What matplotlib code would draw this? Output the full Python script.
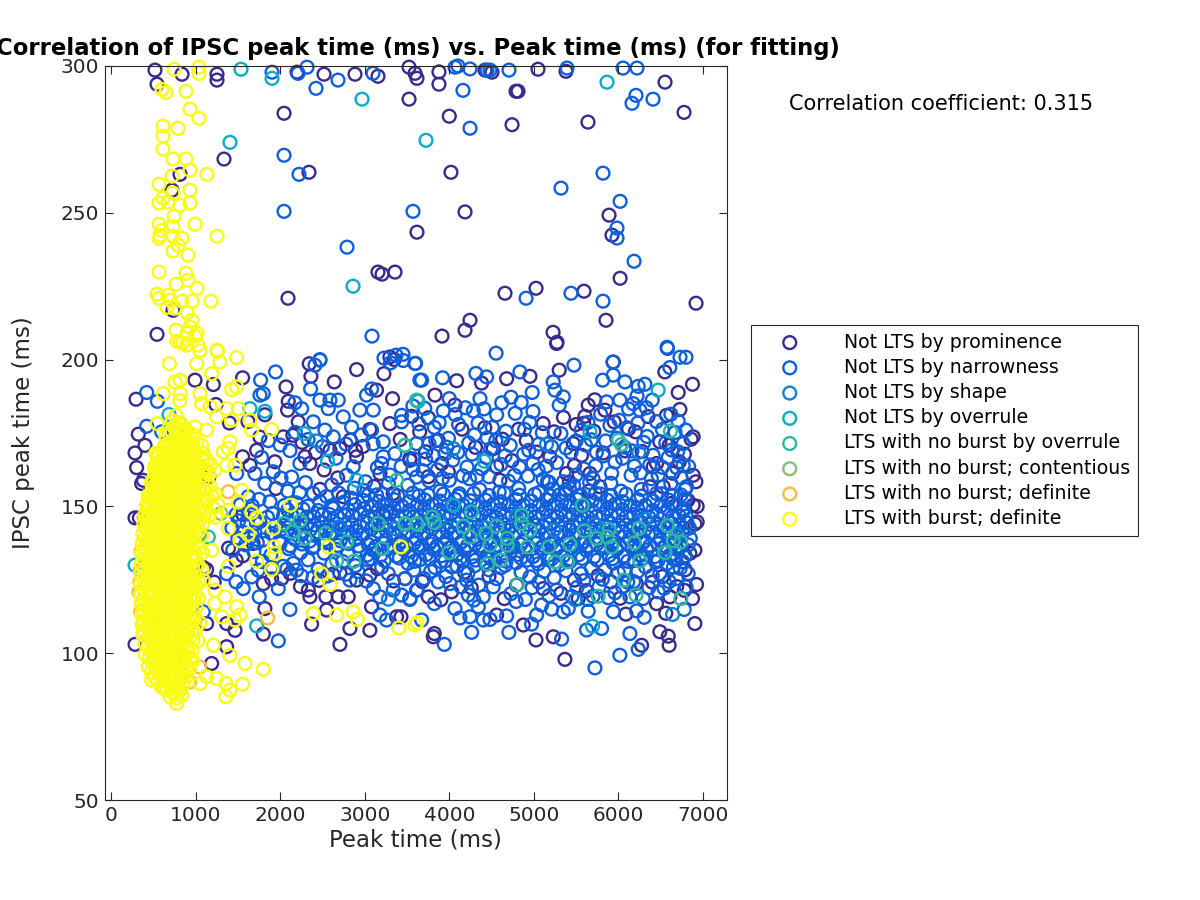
import numpy as np
import matplotlib
matplotlib.use('Agg')
import matplotlib.pyplot as plt

# Values as (peak time, IPSC peak time)
prominence = [
    (520, 298.6), (544, 293.8), (840, 297.2), (1253, 297.2), (1253, 295.2), (2200, 297.9), (2519, 297.2), (2885, 297.2),
    (3157, 296.5), (3524, 299.6), (3595, 297.5), (3618, 295.8), (3524, 288.7), (2046, 283.9), (1336, 268.3), (2341, 263.8),
    (816, 263.1), (721, 257.7), (2093, 220.9), (3157, 229.8), (3205, 229.1), (3358, 229.8), (3618, 243.4), (544, 208.6),
    (733, 216.8), (3878, 298), (3878, 293.8), (4000, 282.9), (4020, 263.8), (4186, 250.3), (4186, 210), (4245, 213.4),
    (3914, 208), (4789, 291.4), (4742, 280), (4659, 222.6), (5026, 224.3), (5049, 298.9), (5380, 298.2), (5593, 223.3),
    (5227, 209.3), (5274, 205.9), (5640, 280.9), (5889, 249.2), (5924, 242.4), (5853, 213.4), (6020, 227.7), (6551, 294.5),
    (6776, 284.2), (6918, 219.2), (4505, 297.9), (4423, 298.6), (4813, 291.4),
    (296, 186.5), (323, 174.6), (284, 168.2), (402, 170.8), (303, 163.2), (382, 158.9), (362, 157.8), (284, 146.1),
    (335, 146.1), (284, 103), (1556, 193.8), (1210, 191.5), (993, 193), (2344, 198.6), (2364, 194.3), (2640, 192.4),
    (2904, 196.6), (3227, 195.2), (3298, 200.9), (3349, 200), (2069, 190.7), (2096, 185.8), (2088, 182.8), (2214, 178.8),
    (2037, 173.7), (1722, 169.1), (1556, 166.9), (1643, 164), (1939, 165.2), (1950, 156.1), (2352, 164.6), (2293, 166.9),
    (2904, 166.9), (2589, 169.1), (2707, 169.7), (2890, 169.1), (2746, 153.3), (3337, 154.4), (3534, 166.3), (3298, 178.2),
    (3329, 186.7), (3140, 189.6), (2333, 121.5), (2352, 119.2), (2541, 119.2), (2687, 119.2), (2805, 119.2), (1801, 123.7),
    (2017, 125.4), (1820, 115.2), (1367, 110.1), (1466, 107.8), (1801, 106.5), (1367, 102.2), (1190, 96.5), (1131, 110.1),
    (1091, 129.2), (1131, 128.5), (2707, 103), (2372, 109.9), (2549, 114.7), (2825, 108.4), (3081, 115.8), (3061, 107.8),
    (3377, 112.4), (2707, 127.4), (2904, 124.9), (3061, 126.6), (5269, 205.5), (5939, 199.2), (5300, 196.4), (4954, 194.3),
    (4087, 192.8), (4382, 192), (4678, 193.5), (3831, 187.9), (4067, 184.5), (3555, 180.7), (3752, 180.2), (5643, 184.5),
    (5840, 182.8), (5604, 180.7), (6549, 195.8), (6876, 191.6), (6707, 188.8), (6727, 183), (6569, 181), (6884, 173.7),
    (6860, 172.9), (6884, 160.6), (6916, 158.4), (6884, 150.4), (6931, 150), (6931, 144.7), (6904, 144), (6904, 135.1),
    (6845, 134), (6924, 123.4), (6876, 118.6), (6904, 110.1), (6600, 102.7), (6490, 107.3), (6589, 105.8), (6274, 102.7),
    (5367, 97.9), (5025, 104.5), (5230, 105.6), (3823, 106.7), (3811, 105.6), (4560, 113), (4875, 109.6), (6088, 113.3),
    (6451, 116.9), (6608, 119.2), (5525, 118.6), (5111, 122), (4796, 123.2), (4028, 120.9), (3752, 119.2), (3476, 125.4),
    (3429, 112.4), (5190, 166.9), (5466, 171.4), (5564, 167.4), (5663, 161.2), (5781, 156.7), (5387, 161.2), (4599, 158.9),
    (4560, 163.5), (3910, 164.6), (3988, 161.8), (3752, 160.1), (3535, 165.7), (3870, 172.5), (6451, 164.6), (6411, 163.5),
    (6490, 172), (6529, 156.7), (6628, 151), (6372, 156.7), (5590, 178.3), (5710, 175.6), (5820, 168.2), (5420, 158.3),
    (5480, 163.9), (5650, 155.2), (6120, 176.4), (6280, 168.7), (6640, 161.3), (6780, 167.8), (6820, 152.1), (6790, 128.4),
    (6690, 122.7), (6520, 126.1), (5910, 124.3), (5760, 126.4), (5480, 124.9), (4180, 127.6), (4470, 126.2), (4630, 172.9),
    (4820, 176.3), (5030, 168.5), (3260, 148.2), (3110, 156.8), (2680, 159.7), (2470, 155.8), (1760, 173.6), (1400, 178.4),
    (1620, 178.9), (1820, 181.2), (1240, 184.7), (1160, 160.2), (1480, 131.7), (1560, 133.2), (1390, 135.8), (1220, 124.2),
    (2150, 174.2), (2260, 171.8), (2420, 168.3), (2520, 162.4), (2830, 172.6), (2980, 170.4), (3060, 176.2), (3180, 161.2),
    (3420, 172.8), (3650, 175.4), (3720, 168.6), (4150, 176.3), (4310, 170.1), (4420, 176.8), (4520, 169.7), (4740, 165.6),
    (4910, 172.4), (5110, 178.2), (5240, 175.4), (5350, 180.3), (5500, 177.9), (5720, 186.3), (5950, 178.8), (6080, 168.9),
    (6200, 175.4), (6350, 180.6), (6600, 170.8), (6720, 165.2), (1560, 147.3), (1680, 137.4), (1900, 125.3), (2120, 127.2),
    (2240, 122.7), (2460, 124.8), (2620, 126.9), (3150, 128.8), (3340, 124.6), (3680, 124.4), (3900, 118.2), (4260, 122.3),
    (4650, 118.6), (5320, 120.4), (5620, 121.3), (6020, 118.7), (6210, 123.8), (6400, 124.2), (6560, 113.6), (6780, 121.4),
]

narrowness = [
    (1904, 297.9), (2318, 299.6), (2211, 297.5), (2684, 295.2), (2424, 292.4), (3098, 297.5), (2046, 269.6), (2223, 263.1),
    (2046, 250.5), (3571, 250.5), (2791, 238.3), (3086, 208), (4162, 291.7), (4245, 278.8), (4068, 299.6), (4103, 300),
    (4245, 299), (4446, 298.6), (4482, 298.6), (4706, 298.6), (5392, 299.3), (5321, 258.4), (5818, 263.5), (6020, 253.9),
    (5983, 244.8), (5983, 241.4), (6185, 233.5), (4908, 220.9), (5439, 222.6), (5818, 219.9), (6055, 299.3), (6220, 299.3),
    (6208, 290), (6161, 287.3), (6409, 288.7), (6575, 204.2), (6728, 200.8), (6799, 200.8), (4553, 202.2), (2471, 199.8),
    (2412, 198.1), (3370, 201.5), (3453, 201.8), (3228, 200.5), (5936, 199.1),
    (422, 188.8), (548, 185.8), (422, 177.3), (599, 175.4), (1769, 193), (1946, 195.8), (2470, 200), (2360, 190),
    (3456, 199.7), (3306, 198.9), (3593, 198.7), (3652, 193), (1761, 187.9), (1800, 188.4), (2254, 183.3), (2175, 185.3),
    (2470, 186.2), (2589, 186.2), (2687, 186.2), (2569, 183.3), (3022, 187.9), (3081, 190), (3101, 182.8), (2943, 182.8),
    (2746, 180.5), (2845, 177), (3436, 181), (3436, 178.8), (3219, 172), (3081, 176), (2392, 178.8), (2530, 176),
    (2628, 173.7), (2116, 169), (2234, 164.6), (1702, 161.2), (1919, 161.8), (2136, 160), (2392, 154.4), (2864, 163.5),
    (2786, 160.6), (3219, 166.9), (3199, 164.6), (3357, 168), (3613, 160), (3613, 171.4), (1623, 153.3), (1820, 157.8),
    (1485, 161.2), (3101, 122), (3180, 119.2), (3337, 121.5), (3436, 119.8), (3534, 118.6), (3613, 121.5), (3475, 125.4),
    (1753, 119.2), (2116, 114.9), (1978, 104.2), (2825, 124.9), (3278, 127.1), (2194, 128.3), (2037, 129.6), (2155, 130.6),
    (1663, 126), (1564, 122), (1478, 124.3), (1367, 127.1), (3180, 113), (3258, 111.3), (1091, 114.1), (1978, 122),
    (1742, 128.3), (3602, 198.7), (3673, 193), (3921, 193.8), (4315, 195.3), (4441, 194.1), (4835, 195.8), (5474, 198.1),
    (6581, 203.8), (6608, 197.3), (5813, 193), (5939, 194.7), (6077, 192.4), (6234, 190.9), (6313, 191.6), (5229, 192.4),
    (5249, 189.6), (5348, 187.3), (5300, 184.5), (4981, 188.8), (4363, 186.7), (4000, 186.7), (3929, 182.5), (4284, 182.5),
    (3823, 176.9), (6017, 186.2), (6175, 185), (6254, 182.8), (6707, 179), (6797, 176), (6766, 171.4), (6766, 164),
    (6805, 156.7), (6825, 127.1), (6778, 114.9), (6305, 112.2), (6136, 106.7), (6234, 101.3), (6017, 99.3), (5722, 95),
    (5801, 108.4), (5623, 107.9), (5328, 104.8), (4705, 107.1), (4264, 107.1), (3941, 103), (3673, 111.3), (3535, 118.3),
    (3823, 116.9), (4067, 115.2), (4126, 112), (4244, 112.4), (4402, 111.3), (4481, 111.5), (4678, 112.7), (4973, 109.9),
    (5033, 113), (5210, 115), (5348, 114.1), (5407, 115.2), (5643, 114.3), (5939, 114.1), (6215, 114.4), (4343, 115.8),
    (4402, 119.2), (4225, 119.8), (4560, 125.4), (5269, 121.5), (5092, 116.4), (4954, 126), (3622, 121.5), (4008, 123.7),
    (4205, 124.9), (6136, 119.2), (6293, 118.6), (6490, 127.1), (6687, 125.4),
]

# upper and lower shoulders of the central band
narrowness_mid = [
    (3640, 178.1), (3760, 171.4), (3880, 178.6), (3990, 173.2), (4110, 177.9), (4230, 171.6), (4340, 178.4), (4450, 173.3),
    (4560, 181.2), (4670, 175.6), (4780, 181.7), (4890, 176.2), (4990, 182.3), (5100, 175.1), (5210, 170.3), (5320, 174.8),
    (5440, 168.4), (5560, 175.9), (5680, 172.7), (5790, 181.4), (5900, 177.6), (6010, 179.3), (6120, 183.2), (6230, 178.4),
    (6340, 173.8), (6450, 178.9), (6560, 171.6), (6670, 175.2), (3580, 166.2), (3690, 162.1), (3810, 167.3), (3920, 159.6),
    (4040, 165.7), (4160, 160.4), (4270, 167.8), (4380, 162.9), (4490, 169.6), (4610, 164.3), (4720, 170.8), (4830, 163.4),
    (4940, 169.1), (5050, 162.5), (5160, 158.4), (5270, 164.9), (5380, 155.6), (5500, 160.7), (5610, 170.9), (5730, 163.8),
    (5850, 172.3), (5960, 165.1), (6070, 170.2), (6190, 163.7), (6300, 171.8), (6410, 167.4), (6520, 163.3), (6630, 169.2),
    (6740, 159.8), (6830, 163.6), (3510, 157.2), (3640, 153.6), (3760, 158.7), (3890, 155.2), (4000, 158.9), (4120, 154.3),
    (4240, 159.4), (4360, 155.7), (4470, 160.1), (4590, 154.9), (4700, 158.6), (4820, 156.1), (4930, 160.3), (5060, 154.7),
    (5180, 158.2), (5300, 153.9), (5420, 156.2), (5540, 153.6), (5660, 158.1), (5790, 154.2), (5910, 157.9), (6030, 155.2),
    (6150, 160.6), (6270, 155.8), (6390, 159.4), (6510, 154.3), (6620, 157.8), (6740, 153.9), (3300, 160.7), (3150, 163.2),
    (3010, 158.4), (2880, 156.2), (2610, 157.3), (2300, 158.1), (2010, 159.6), (1750, 152.4), (3580, 128.3), (3700, 125.4),
    (3830, 129.2), (3960, 126.1), (4090, 129.7), (4220, 127.2), (4350, 123.2), (4470, 128.4), (4610, 129.1), (4730, 120.3),
    (4850, 127.6), (4980, 122.3), (5120, 127.9), (5240, 125.7), (5380, 128.1), (5510, 122.4), (5640, 118.3), (5770, 122.6),
    (5880, 118.9), (6000, 127.4), (6110, 124.2), (6230, 127.9), (6360, 122.3), (6470, 120.9), (6600, 124.4), (6730, 128.9),
    (3510, 130.6), (3650, 131.8), (3780, 127.9), (3900, 131.2), (4030, 129.4), (4160, 131.6), (4300, 129.8), (4420, 130.9),
    (4540, 131.2), (4660, 129.9), (4790, 130.8), (4920, 131.7), (5050, 130.4), (5170, 131.9), (5300, 130.1), (5430, 131.3),
    (5560, 127.1), (5680, 128.9), (5810, 125.2), (5940, 130.7), (6070, 128.2), (6190, 131.6), (6320, 129.4), (6440, 131.1),
    (6570, 130.5), (6680, 131.8), (3200, 129.3), (3040, 131.7), (2890, 129.8), (2740, 131.2), (2610, 130.3), (2450, 128.6),
    (2330, 131.8), (1890, 133.4), (1790, 131.2), (1690, 134.6), (1590, 136.9), (1500, 139.2), (1430, 142.6), (1510, 145.1),
    (3570, 184.2), (3710, 183.4), (3840, 172.4), (3950, 167.9), (4070, 181.3), (4190, 183.6), (4300, 174.4), (4410, 183.2),
    (4510, 176.9), (4620, 185.3), (4730, 187.2), (4850, 185.4), (4950, 178.6), (5060, 171.2), (5150, 163.7), (5380, 169.9),
    (5500, 172.3), (5640, 178.6), (5740, 168.4), (5860, 185.6), (5980, 173.2), (6100, 176.8), (6220, 187.6), (6330, 183.6),
    (6400, 186.2), (6520, 176.2), (6620, 181.4), (6700, 168.6), (3100, 171.3), (2960, 174.3), (2780, 171.2), (2660, 166.4),
    (2500, 170.4), (2330, 172.8), (2180, 175.2), (2000, 170.9), (1860, 172.4), (1780, 166.7), (3430, 163.6), (3280, 157.8),
    (3140, 153.9), (2990, 155.4), (2840, 152.8), (2690, 154.6), (2550, 153.4), (2230, 154.7), (2090, 155.2), (1880, 151.6),
    (3570, 162.6), (3720, 166.1), (3860, 162.4), (3970, 170.2), (4100, 168.4), (4210, 163.4), (4330, 160.3), (4440, 166.6),
    (4550, 172.4), (4660, 167.2), (4770, 160.6), (4880, 167.8), (4990, 164.6), (5110, 159.2), (5230, 155.9), (5350, 158.4),
    (5470, 157.2), (5590, 162.8), (5700, 159.4), (5820, 167.2), (5920, 161.3), (6050, 166.4), (6160, 168.9), (6260, 161.4),
    (6370, 164.1), (6470, 160.6), (6590, 166.7), (6690, 163.2), (6790, 155.8), (3020, 124.6), (2920, 127.8), (2780, 126.9),
    (2560, 126.3), (2390, 125.8), (2250, 126.4), (2080, 128.7), (1900, 129.2), (3870, 124.3), (4140, 122.6), (4290, 118.1),
    (4520, 122.6), (4790, 117.6), (4900, 118.3), (5060, 124.2), (5180, 119.6), (5450, 119.3), (5590, 124.7), (5700, 119.4),
    (5840, 128.3), (5960, 120.6), (6050, 122.6), (6180, 124.4), (6400, 126.4), (6540, 122.1), (6650, 129.3), (6800, 122.6),
]

narrowness_band = [
    (1650, 147.2), (1760, 144.8), (1850, 146.3), (1950, 143.6), (2040, 146.8), (2130, 144.2), (2220, 147.1), (2310, 143.9),
    (2400, 146.4), (2490, 144.6), (2580, 147.3), (2670, 144.1), (2760, 146.9), (2850, 143.7), (2940, 147.5), (3030, 144.4),
    (3120, 146.2), (3210, 143.8), (3300, 147.6), (3390, 144.3), (3480, 146.7), (3570, 143.9), (3660, 147.1), (3750, 144.6),
    (3840, 146.3), (3930, 143.7), (4020, 147.4), (4110, 144.2), (4200, 146.8), (4290, 143.9), (4380, 147.2), (4470, 144.5),
    (4560, 146.1), (4650, 143.8), (4740, 147.3), (4830, 144.4), (4920, 146.6), (5010, 143.6), (5100, 147.5), (5190, 144.1),
    (5280, 146.4), (5370, 143.9), (5460, 147.1), (5550, 144.7), (5640, 146.2), (5730, 143.8), (5820, 147.4), (5910, 144.3),
    (6000, 146.9), (6090, 143.7), (6180, 147.2), (6270, 144.5), (6360, 146.3), (6450, 143.9), (6540, 147.6), (6630, 144.2),
    (6720, 146.8), (6810, 144.4),
    (1700, 141.2), (1800, 138.6), (1900, 140.8), (1990, 138.1), (2080, 141.4), (2170, 138.9), (2260, 140.6), (2350, 138.2),
    (2440, 141.3), (2530, 138.7), (2620, 140.9), (2710, 138.3), (2800, 141.1), (2890, 138.8), (2980, 140.4), (3070, 138.1),
    (3160, 141.5), (3250, 138.6), (3340, 140.7), (3430, 138.2), (3520, 141.2), (3610, 138.9), (3700, 140.5), (3790, 138.3),
    (3880, 141.3), (3970, 138.7), (4060, 140.8), (4150, 138.1), (4240, 141.4), (4330, 138.8), (4420, 140.3), (4510, 138.4),
    (4600, 141.1), (4690, 138.6), (4780, 140.9), (4870, 138.2), (4960, 141.5), (5050, 138.7), (5140, 140.6), (5230, 138.3),
    (5320, 141.2), (5410, 138.9), (5500, 140.4), (5590, 138.1), (5680, 141.3), (5770, 138.6), (5860, 140.7), (5950, 138.2),
    (6040, 141.4), (6130, 138.8), (6220, 140.5), (6310, 138.3), (6400, 141.1), (6490, 138.7), (6580, 140.8), (6670, 138.4),
    (6760, 141.2), (6850, 139.1),
    (3100, 135.1), (3190, 133.4), (3280, 135.6), (3370, 133.1), (3460, 135.3), (3550, 132.9), (3640, 135.7), (3730, 133.6),
    (3820, 135.2), (3910, 133.2), (4000, 135.8), (4090, 133.5), (4180, 135.1), (4270, 132.8), (4360, 135.6), (4450, 133.3),
    (4540, 135.4), (4630, 133.1), (4720, 135.9), (4810, 133.6), (4900, 135.2), (4990, 132.9), (5080, 135.7), (5170, 133.4),
    (5260, 135.3), (5350, 133.2), (5440, 135.8), (5530, 133.5), (5620, 135.1), (5710, 132.8), (5800, 135.6), (5890, 133.3),
    (5980, 135.4), (6070, 133.1), (6160, 135.9), (6250, 133.6), (6340, 135.2), (6430, 132.9), (6520, 135.7), (6610, 133.4),
    (6700, 135.3), (6790, 133.2), (2100, 135.6), (2240, 134.2), (2380, 135.9), (2520, 134.1), (2660, 135.4), (2800, 133.8),
    (2940, 135.2), (3030, 133.4),
    (2050, 150.3), (2190, 151.2), (2330, 150.1), (2470, 151.6), (2610, 150.2), (2750, 151.4), (2880, 150.6), (2980, 152.1),
    (3080, 150.2), (3170, 151.7), (3260, 150.4), (3350, 152.3), (3440, 150.1), (3530, 151.6), (3620, 150.3), (3710, 152.2),
    (3800, 150.6), (3890, 151.8), (3980, 150.2), (4070, 152.4), (4160, 150.5), (4250, 151.9), (4340, 150.1), (4430, 152.1),
    (4520, 150.7), (4610, 151.6), (4700, 150.3), (4790, 152.3), (4880, 150.4), (4970, 151.8), (5060, 150.2), (5150, 152.2),
    (5240, 150.6), (5330, 151.7), (5420, 150.1), (5510, 152.4), (5600, 150.5), (5690, 151.9), (5780, 150.3), (5870, 152.1),
    (5960, 150.7), (6050, 151.6), (6140, 150.2), (6230, 152.3), (6320, 150.4), (6410, 151.8), (6500, 150.1), (6590, 152.2),
    (6680, 150.6), (6770, 149.2),
]

# second pass over the band, where the rings merge into a solid strip
narrowness_band2 = [
    (1720, 144.2), (1810, 141.7), (1910, 147.6), (2000, 141.9), (2090, 148.8), (2180, 141.6), (2270, 149.1), (2360, 142.2),
    (2450, 148.6), (2540, 141.8), (2630, 149.3), (2720, 142.1), (2810, 148.7), (2900, 141.6), (2990, 149.2), (3080, 142.3),
    (3165, 148.9), (3255, 141.8), (3345, 149.4), (3435, 142), (3525, 148.6), (3615, 141.7), (3705, 149.1), (3795, 142.4),
    (3885, 148.8), (3975, 141.9), (4065, 149.3), (4155, 142.2), (4245, 148.7), (4335, 141.6), (4425, 149.2), (4515, 142.1),
    (4605, 148.9), (4695, 141.8), (4785, 149.4), (4875, 142.3), (4965, 148.6), (5055, 141.7), (5145, 149.1), (5235, 142),
    (5325, 148.8), (5415, 141.9), (5505, 149.3), (5595, 142.2), (5685, 148.7), (5775, 141.6), (5865, 149.2), (5955, 142.4),
    (6045, 148.9), (6135, 141.8), (6225, 149.4), (6315, 142.1), (6405, 148.6), (6495, 141.7), (6585, 149.1), (6675, 142.3),
    (6765, 148.4), (6840, 142.6),
    (2050, 143.6), (2140, 146.7), (2225, 143.2), (2315, 146.4), (2405, 143.7), (2495, 147.1), (2585, 143.4), (2675, 146.5),
    (2765, 143.8), (2855, 146.9), (2945, 143.3), (3035, 146.6), (3125, 143.6), (3215, 147.2), (3305, 143.5), (3395, 146.7),
    (3485, 143.9), (3575, 146.4), (3665, 143.2), (3755, 147), (3845, 143.7), (3935, 146.8), (4025, 143.4), (4115, 146.5),
    (4205, 143.8), (4295, 147.1), (4385, 143.3), (4475, 146.6), (4565, 143.6), (4655, 146.9), (4745, 143.5), (4835, 147.2),
    (4925, 143.9), (5015, 146.4), (5105, 143.2), (5195, 146.7), (5285, 143.7), (5375, 147), (5465, 143.4), (5555, 146.8),
    (5645, 143.8), (5735, 146.5), (5825, 143.3), (5915, 147.1), (6005, 143.6), (6095, 146.6), (6185, 143.5), (6275, 146.9),
    (6365, 143.9), (6455, 147.2), (6545, 143.2), (6635, 146.4), (6725, 143.7), (6800, 146.7),
    (2000, 137.4), (2120, 136.6), (2260, 137.2), (2400, 136.4), (2540, 137.6), (2680, 136.7), (2810, 137.3), (2930, 136.5),
    (3040, 137.1), (3130, 136.3), (3225, 137.4), (3315, 136.6), (3405, 137.2), (3495, 136.4), (3585, 137.5), (3675, 136.7),
    (3765, 137.3), (3855, 136.5), (3945, 137.1), (4035, 136.3), (4125, 137.4), (4215, 136.6), (4305, 137.2), (4395, 136.4),
    (4485, 137.5), (4575, 136.7), (4665, 137.3), (4755, 136.5), (4845, 137.1), (4935, 136.3), (5025, 137.4), (5115, 136.6),
    (5205, 137.2), (5295, 136.4), (5385, 137.5), (5475, 136.7), (5565, 137.3), (5655, 136.5), (5745, 137.1), (5835, 136.3),
    (5925, 137.4), (6015, 136.6), (6105, 137.2), (6195, 136.4), (6285, 137.5), (6375, 136.7), (6465, 137.3), (6555, 136.5),
    (6645, 137.1), (6735, 136.3), (6825, 136.9),
    (3070, 132.2), (3230, 131.6), (3410, 132.4), (3590, 131.3), (3770, 132.1), (3950, 131.4), (4130, 132.3), (4310, 131.7),
    (4490, 132.2), (4670, 131.3), (4850, 132.4), (5030, 131.6), (5210, 132.1), (5390, 131.4), (5570, 132.3), (5750, 131.7),
    (5930, 132.2), (6110, 131.3), (6290, 132.4), (6470, 131.6), (6650, 132.1), (6760, 131.2),
    (3040, 153.8), (3210, 154.3), (3390, 153.6), (3570, 154.5), (3750, 153.9), (3930, 154.2), (4110, 153.5), (4290, 154.4),
    (4470, 153.7), (4650, 154.6), (4830, 153.8), (5010, 154.1), (5190, 153.6), (5370, 154.3), (5550, 153.9), (5730, 154.5),
    (5910, 153.7), (6090, 154.2), (6270, 153.5), (6450, 154.4), (6630, 153.8), (6790, 152.4),
    (1530, 150.6), (1610, 144.3), (1670, 150.2), (1560, 141.2), (1640, 139.3), (1480, 147.3), (1440, 135.1), (1730, 137.6),
]

shape = [
    (2700, 143.1), (3360, 142.4), (3880, 145.2), (4420, 142.8), (4790, 146.7), (5240, 141.9), (5720, 143.8), (6320, 145.6),
    (6680, 140.6), (5150, 171.2), (4050, 169.7), (2430, 172.3), (6240, 168.4), (5490, 118.2), (3280, 118.4), (6640, 113.2),
]

overrule = [
    (1537, 298.9), (1904, 295.8), (2968, 288.7), (1407, 274), (2862, 225), (3725, 274.7), (5865, 294.5), (3630, 185.8),
    (3622, 186), (3476, 170.8), (4414, 165.4), (4047, 150.4), (1643, 183.3), (1820, 182.4), (2285, 174.8), (835, 173.1),
    (686, 181.3), (1722, 109.3), (284, 130), (5663, 175.4), (6470, 189.6), (5694, 109.2), (2561, 165.4), (2904, 158.9),
]

no_burst_overrule = [
    (4264, 148.1), (3799, 146.4), (3823, 144.5), (3476, 143.9), (3622, 143.9), (4166, 143.3), (4244, 139.6), (4560, 143.3),
    (4434, 140.8), (4481, 136.8), (4686, 139.1), (4686, 136.8), (4855, 147), (4855, 144.2), (4954, 141.9), (4926, 136.2),
    (5178, 136.2), (5426, 137.1), (5249, 131.1), (5399, 131.1), (4607, 131.7), (4453, 130.3), (3996, 134.3), (4804, 123.4),
    (5998, 172.5), (6037, 171.1), (5572, 150.4), (5596, 141.7), (5742, 139.1), (5891, 142.1), (5868, 139.6), (5919, 136.2),
    (6246, 142.5), (6187, 137.6), (6254, 131.4), (6581, 143.4), (6648, 138.3), (6738, 137.9), (6549, 134.3), (6065, 124.9),
    (6207, 119.8), (5761, 119.4), (6738, 118.6), (6616, 175.7), (3377, 158.9), (3475, 170.8), (3613, 186.2), (2045, 144.2),
    (2147, 141.3), (2293, 139.1), (2234, 145.1), (2537, 140.8), (2786, 137.9), (2667, 131.5), (2872, 131.3), (3160, 144.2),
    (3475, 144.2), (3613, 144.2), (3207, 135.7), (1151, 139.6), (1052, 140.8),
]

no_burst_contentious = [(420, 142.2), (560, 110.3), (1300, 147.6)]

no_burst_definite = [
    (1852, 112), (1387, 155), (340, 124.3), (330, 120.8), (345, 128.2), (350, 114.2), (355, 134.6), (390, 146.2),
    (1050, 95.3), (930, 90.2),
]

burst_sparse = [
    (745, 298.9), (1041, 299.6), (1041, 297.5), (603, 292), (650, 291), (887, 291.4), (934, 285.3), (1041, 282.2),
    (615, 279.5), (792, 278.8), (615, 276.1), (615, 271.7), (733, 268.3), (887, 268.3), (934, 264.5), (721, 262.5),
    (1135, 263.1), (568, 259.7), (934, 257.7), (733, 256.7), (615, 255), (568, 253.3), (674, 253.6), (816, 252.6),
    (934, 253.3), (745, 248.8), (568, 246.1), (733, 245.4), (993, 246.1), (603, 244), (579, 242.3), (568, 241.3),
    (733, 242), (840, 241.3), (1253, 242), (792, 239), (733, 237), (911, 235.6), (568, 229.8), (887, 229.4),
    (911, 227), (769, 225.7), (1017, 224.3), (544, 222.3), (674, 221.9), (568, 220.9), (698, 220.2), (840, 219.9),
    (958, 219.9), (1183, 219.9), (662, 217.8), (757, 217.5), (899, 216), (958, 213.4), (934, 211), (769, 210),
    (1017, 209), (899, 209), (993, 208), (780, 206.3), (851, 205.6), (1029, 204.9), (1253, 203.2),
    (690, 198.6), (1013, 198.6), (1288, 199.2), (1485, 200.7), (1257, 202.8), (1052, 203), (816, 206), (894, 204.9),
    (1190, 195.2), (816, 193), (757, 192.4), (619, 188.4), (816, 188.4), (816, 186), (1052, 188.4), (1426, 189.8),
    (1485, 190.7), (1072, 185), (1170, 183.9), (1367, 183.3), (1505, 183.3), (1249, 180.5), (1426, 179.4), (1643, 179.4),
    (1663, 176), (1899, 176.2), (548, 178.2), (757, 176.5), (993, 177), (1131, 176), (1407, 172), (678, 170.3),
    (560, 168), (776, 168), (894, 168), (1072, 170.8), (1091, 168), (1328, 168.6), (1387, 169.7), (1466, 164),
    (1367, 164), (697, 163.5), (481, 157.8), (441, 153.8), (1229, 162.3), (1151, 161.8), (1545, 155.5), (1505, 151.5),
    (1387, 148.7), (1663, 148), (1722, 146), (1919, 142.5), (2124, 150.4), (1387, 142.5), (1623, 140.5), (1525, 138.3),
    (2569, 136.2), (3428, 136.2), (1927, 136.2), (1939, 134), (1722, 131.3), (1899, 128.5), (1387, 129.6), (1190, 135),
    (1091, 124.9), (1229, 121.5), (1348, 119.2), (1229, 116.9), (1485, 115.8), (1525, 113), (1308, 112.4), (1466, 111.3),
    (2490, 127.1), (2589, 123.4), (2392, 113.5), (2667, 113), (2864, 114.1), (2912, 111.5), (3404, 108.6), (3593, 109.6),
    (1407, 99.3), (1584, 96.5), (1801, 94.5), (1556, 89.4), (1359, 89.7), (1407, 87.4), (1359, 85.2), (1210, 102.7),
    (1131, 92), (1249, 91.4), (1052, 89.7), (776, 82.9), (835, 85.7), (619, 88), (481, 90.8), (3620, 110.4),
]

# the solid yellow blob near the start of the sweep
burst_blob = [
    (375, 106.2), (368, 109.8), (362, 113.1), (358, 116.7), (352, 120.2), (349, 123.6), (352, 127.1), (356, 130.4),
    (361, 133.9), (368, 137.2), (376, 140.6), (388, 144.1), (402, 147.3), (420, 150.4), (442, 153.2),
    (440, 95.4), (452, 98.7), (438, 102.3), (446, 105.8), (435, 109.2), (444, 112.6), (432, 116.1), (441, 119.5),
    (430, 123.2), (443, 126.7), (434, 130.1), (446, 133.4), (437, 136.8), (449, 140.2), (441, 143.7), (455, 147.1),
    (449, 150.6), (466, 154.1), (478, 158.2),
    (515, 91.8), (522, 95.2), (509, 98.6), (518, 102.1), (507, 105.7), (521, 109.1), (511, 112.5), (519, 116.2),
    (506, 119.6), (523, 123.1), (513, 126.4), (520, 129.9), (508, 133.3), (524, 136.7), (514, 140.2), (522, 143.6),
    (511, 147.1), (526, 150.5), (517, 154.2), (529, 157.6), (522, 161.1), (535, 164.4),
    (590, 88.9), (598, 92.3), (585, 95.8), (594, 99.2), (582, 102.7), (599, 106.1), (588, 109.6), (596, 113.2),
    (583, 116.7), (600, 120.1), (589, 123.4), (597, 126.9), (584, 130.3), (601, 133.8), (591, 137.2), (598, 140.7),
    (586, 144.1), (603, 147.4), (593, 151.1), (600, 154.6), (589, 158.2), (605, 161.7), (596, 165.1), (608, 168.6),
    (665, 87.6), (672, 91.2), (659, 94.7), (670, 98.1), (657, 101.6), (674, 105.2), (663, 108.6), (671, 112.1),
    (658, 115.5), (676, 119.1), (664, 122.6), (673, 126.2), (660, 129.6), (677, 133.1), (666, 136.4), (675, 139.9),
    (661, 143.4), (678, 146.8), (668, 150.3), (676, 153.9), (663, 157.4), (680, 160.8), (670, 164.3), (682, 167.9),
    (674, 171.4), (688, 174.6),
    (740, 86.2), (748, 89.7), (735, 93.1), (745, 96.6), (733, 100.2), (750, 103.6), (738, 107.1), (747, 110.7),
    (734, 114.2), (752, 117.6), (741, 121.1), (749, 124.7), (736, 128.1), (753, 131.6), (743, 135.2), (751, 138.6),
    (737, 142.1), (754, 145.6), (744, 149.1), (752, 152.5), (739, 156.1), (756, 159.4), (746, 162.9), (758, 166.4),
    (749, 169.8), (762, 173.2), (754, 177.4), (770, 180.9),
    (815, 87.4), (822, 90.9), (810, 94.3), (820, 97.8), (808, 101.3), (825, 104.7), (813, 108.2), (822, 111.8),
    (809, 115.3), (827, 118.7), (816, 122.2), (824, 125.8), (811, 129.2), (828, 132.7), (818, 136.1), (826, 139.6),
    (812, 143.2), (829, 146.7), (819, 150.2), (827, 153.6), (814, 157.1), (831, 160.6), (821, 164.1), (833, 167.6),
    (824, 171.1), (838, 174.7), (829, 178.2),
    (890, 92.1), (897, 95.6), (884, 99.1), (895, 102.6), (882, 106.1), (899, 109.5), (888, 113.1), (896, 116.6),
    (883, 120.1), (901, 123.5), (890, 127.1), (898, 130.4), (885, 133.9), (902, 137.4), (892, 140.9), (900, 144.3),
    (886, 147.8), (903, 151.3), (893, 154.8), (901, 158.2), (888, 161.7), (905, 165.2), (895, 168.7), (908, 172.2),
    (899, 175.6),
    (965, 97.4), (958, 100.9), (969, 104.4), (956, 107.8), (971, 111.3), (960, 114.9), (968, 118.3), (955, 121.8),
    (973, 125.2), (962, 128.7), (970, 132.3), (957, 135.7), (974, 139.2), (964, 142.7), (972, 146.1), (958, 149.6),
    (976, 153.1), (966, 156.6), (974, 160.1), (960, 163.6), (978, 167.1), (968, 170.6), (981, 174.1),
    (1035, 118.6), (1040, 124.3), (1030, 130.1), (1043, 135.8), (1033, 141.6), (1048, 145.4), (1038, 149.2), (1052, 152.8),
    (1041, 156.4), (1055, 159.9), (1044, 163.4), (1058, 166.9), (1050, 110.4), (1026, 104.2), (1110, 147.2), (1125, 151.6),
    (1105, 155.3), (1130, 158.7), (1115, 162.4), (1138, 165.8), (1190, 153.6), (1205, 149.4),
]

# second pass over the blob, between the rings of the first
burst_blob2 = [
    (405, 99.6), (398, 103.4), (392, 107.7), (388, 111.2), (386, 114.8), (384, 118.3), (382, 121.9), (385, 125.2),
    (388, 128.6), (391, 132.1), (395, 135.6), (401, 139.1), (409, 142.5), (421, 145.9), (435, 149.2),
    (478, 93.5), (484, 96.9), (476, 100.4), (482, 103.9), (474, 107.3), (481, 110.8), (473, 114.3), (480, 117.8),
    (472, 121.3), (479, 124.8), (471, 128.2), (478, 131.7), (473, 135.2), (481, 138.6), (475, 142.1), (483, 145.6),
    (477, 149), (488, 152.5), (495, 156), (500, 159.4), (512, 163.2), (530, 168.1),
    (552, 90.6), (558, 94), (547, 97.4), (555, 100.9), (545, 104.3), (557, 107.8), (549, 111.3), (556, 114.8),
    (546, 118.2), (558, 121.7), (550, 125.2), (557, 128.6), (547, 132.1), (559, 135.5), (551, 139), (558, 142.4),
    (548, 145.9), (560, 149.3), (552, 152.8), (561, 156.3), (550, 159.7), (563, 163.2), (555, 166.7),
    (628, 87.8), (634, 90.9), (622, 94.3), (632, 97.8), (620, 101.2), (635, 104.7), (625, 108.1), (633, 111.6),
    (621, 115.1), (636, 118.6), (626, 122.1), (634, 125.5), (622, 129), (637, 132.4), (627, 135.9), (635, 139.3),
    (623, 142.8), (638, 146.2), (628, 149.7), (636, 153.2), (624, 156.7), (640, 160.1), (630, 163.6), (642, 167.1),
    (634, 170.6), (648, 174.2),
    (702, 85.1), (709, 88.8), (696, 92.3), (706, 95.8), (694, 99.3), (711, 102.8), (699, 106.3), (708, 109.8),
    (695, 113.2), (712, 116.7), (701, 120.2), (709, 123.6), (697, 127.1), (713, 130.6), (703, 134.1), (710, 137.5),
    (698, 141), (714, 144.5), (704, 148), (711, 151.4), (699, 154.9), (715, 158.4), (705, 161.9), (717, 165.3),
    (708, 168.8), (720, 172.3), (712, 175.8), (726, 179.2),
    (778, 84.7), (785, 88.2), (772, 91.7), (782, 95.1), (770, 98.6), (787, 102.1), (775, 105.6), (784, 109),
    (771, 112.5), (788, 116), (777, 119.5), (786, 122.9), (773, 126.4), (789, 129.9), (779, 133.4), (787, 136.8),
    (774, 140.3), (790, 143.8), (780, 147.3), (788, 150.7), (775, 154.2), (791, 157.7), (781, 161.2), (793, 164.6),
    (784, 168.1), (796, 171.6), (788, 175.1), (802, 178.6),
    (852, 89.3), (859, 92.8), (847, 96.2), (857, 99.7), (845, 103.2), (862, 106.6), (850, 110.1), (859, 113.6),
    (846, 117.1), (863, 120.5), (852, 124), (860, 127.5), (847, 131), (864, 134.4), (854, 137.9), (861, 141.4),
    (848, 144.9), (865, 148.3), (855, 151.8), (862, 155.3), (849, 158.8), (866, 162.2), (856, 165.7), (868, 169.2),
    (859, 172.7), (873, 176.2),
    (927, 94.8), (934, 98.3), (921, 101.8), (932, 105.2), (920, 108.7), (936, 112.2), (925, 115.6), (933, 119.1),
    (921, 122.6), (938, 126), (927, 129.5), (935, 133), (922, 136.5), (939, 139.9), (929, 143.4), (936, 146.9),
    (923, 150.4), (940, 153.8), (930, 157.3), (937, 160.8), (924, 164.3), (941, 167.7), (932, 171.2), (944, 174.7),
    (1003, 108.4), (996, 112.1), (1006, 115.7), (994, 119.2), (1008, 122.7), (998, 126.2), (1005, 129.7), (993, 133.1),
    (1009, 136.6), (999, 140.1), (1006, 143.6), (994, 147), (1010, 150.5), (1001, 154), (1008, 157.5), (996, 161),
    (1012, 164.4), (1003, 167.9), (1015, 171.4), (1075, 128.4), (1082, 134.2), (1070, 139.9), (1086, 144.3), (1074, 148.8),
    (1090, 152.3), (1078, 155.8), (1094, 159.2), (1083, 162.7), (1097, 166.2), (1160, 146.8), (1148, 152.4), (1172, 156.9),
    (1155, 160.8), (1180, 164.2), (1230, 154.3), (1265, 150.6), (1240, 146.3),
]

legend_labels = ['Not LTS by prominence', 'Not LTS by narrowness', 'Not LTS by shape', 'Not LTS by overrule',
                 'LTS with no burst by overrule', 'LTS with no burst; contentious', 'LTS with no burst; definite',
                 'LTS with burst; definite']
colors = ['#3b2a8c', '#0f5fdc', '#1380d8', '#08acc8', '#2eb7a0', '#87bf73', '#fcbb3c', '#f9fb15']

series = [prominence, narrowness + narrowness_mid + narrowness_band + narrowness_band2, shape, overrule,
          no_burst_overrule, no_burst_contentious, no_burst_definite, burst_sparse + burst_blob + burst_blob2]

fig = plt.figure(figsize=(12, 9), dpi=100)
ax = fig.add_axes([104.5 / 1200, 1 - 800 / 900, (727 - 104.5) / 1200, (800 - 66) / 900])

for pts, color, label in zip(series, colors, legend_labels):
    pts = np.array(pts)
    ax.scatter(pts[:, 0], pts[:, 1], s=85, facecolors='none', edgecolors=color, linewidths=1.7,
               label=label, clip_on=False)

ax.set_xlim(-77, 7284)
ax.set_ylim(50, 300)
ax.set_xticks(range(0, 8000, 1000))
ax.set_yticks([50, 100, 150, 200, 250, 300])
dark = '#262626'
ax.tick_params(direction='in', top=True, right=True, length=6, width=0.8, labelsize=14.5, colors=dark, pad=4)
for spine in ax.spines.values():
    spine.set_color(dark)
    spine.set_linewidth(0.8)
ax.set_xlabel('Peak time (ms)', fontsize=16.5, color=dark, labelpad=3)
ax.set_ylabel('IPSC peak time (ms)', fontsize=16.5, color=dark, labelpad=5)
ax.yaxis.set_label_coords((35 - 104.5) / (727 - 104.5), 0.5)
fig.text(418 / 1200, 1 - 48 / 900, 'Correlation of IPSC peak time (ms) vs. Peak time (ms) (for fitting)',
         fontsize=16.4, fontweight='bold', ha='center', va='center', color='black')
fig.text(789 / 1200, 1 - 104 / 900, 'Correlation coefficient: 0.315', fontsize=15, ha='left', va='center',
         color='black')

leg = ax.legend(loc='upper left', bbox_to_anchor=(751 / 1200, 1 - 325 / 900), bbox_transform=fig.transFigure,
                fontsize=13.6, fancybox=False, framealpha=1, edgecolor=dark, borderaxespad=0, borderpad=0.4,
                labelspacing=0.33, handletextpad=1.25, handlelength=3.3, scatterpoints=1)
leg.get_frame().set_linewidth(0.8)

fig.savefig('out.png', dpi=100)
